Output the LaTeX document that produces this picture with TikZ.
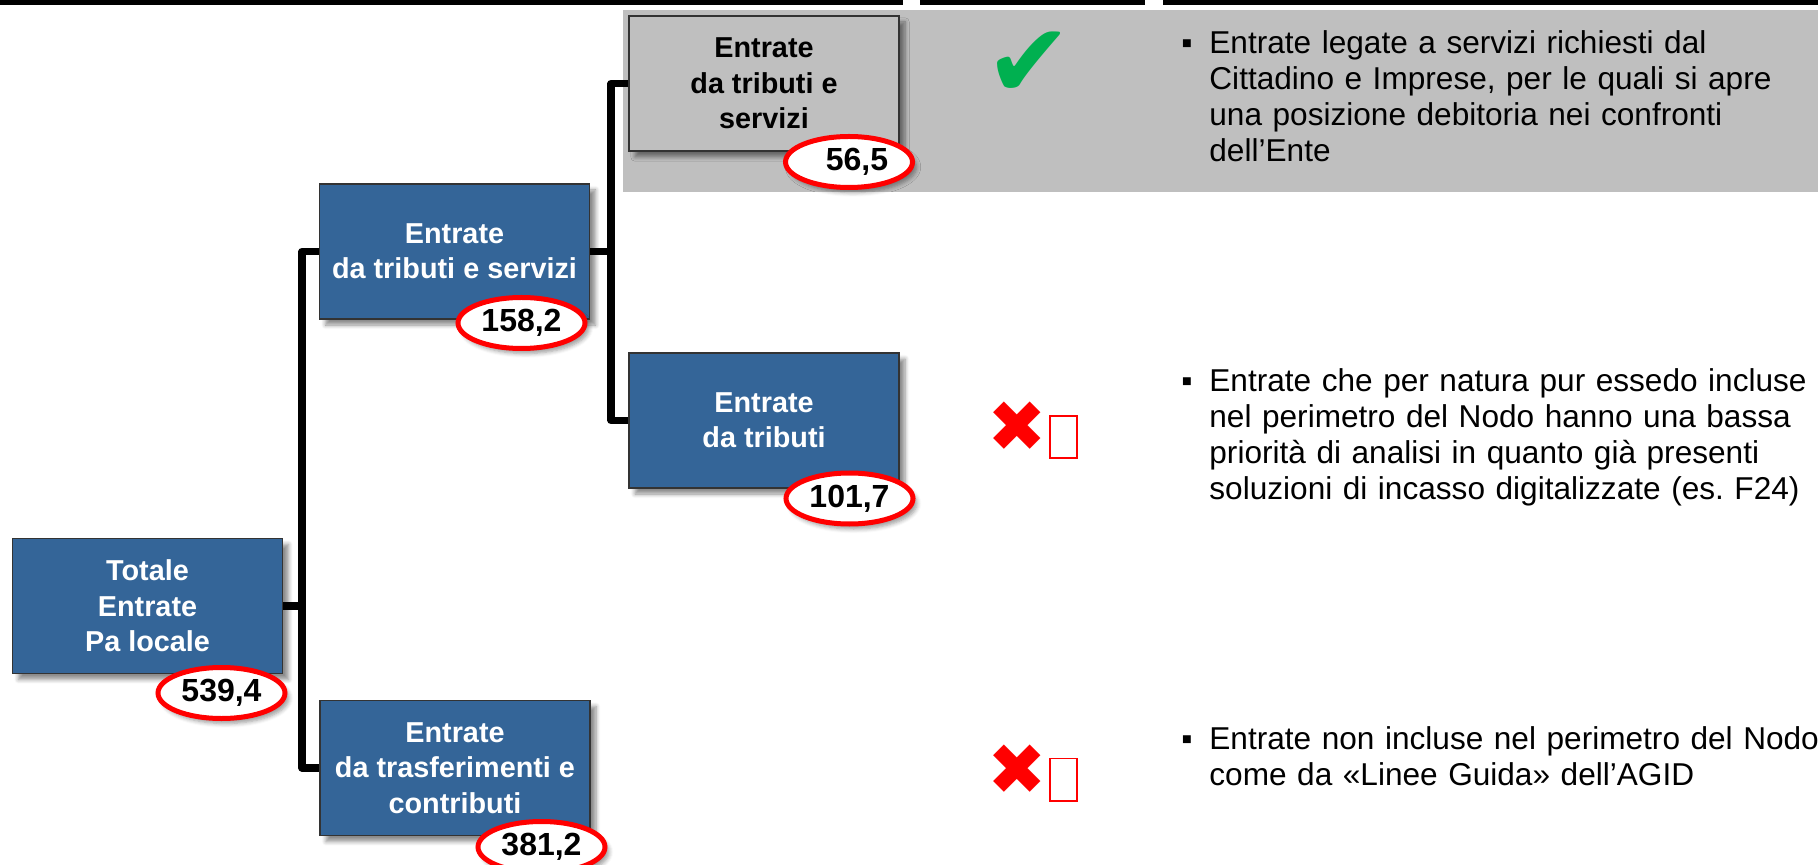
\documentclass[tikz,border=0pt]{standalone}
\usepackage{fontspec}
\setmainfont{Liberation Sans}
\newfontfamily\symfont{DejaVu Sans}
\usetikzlibrary{shapes.geometric,shadows,shadows.blur}
\frenchspacing
\definecolor{boxblue}{RGB}{52,101,152}
\definecolor{bandgray}{RGB}{191,191,191}
\definecolor{okgreen}{RGB}{0,176,80}
\tikzstyle{voce} = [draw=black!80, line width=0.6pt, minimum width=135pt, minimum height=67.5pt, align=center, fill=boxblue, text=white, font=\fontsize{14.4}{17.7}\selectfont\bfseries, blur shadow={shadow xshift=3pt, shadow yshift=-3pt, shadow blur steps=6, shadow opacity=45}]
\tikzstyle{voceok} = [voce, fill=bandgray, text=black]
\tikzstyle{importo} = [ellipse, draw=red, line width=2.5pt, fill=white, minimum width=63.5pt, minimum height=25.5pt, inner sep=0pt, font=\fontsize{16}{18}\selectfont\bfseries, blur shadow={shadow xshift=2pt, shadow yshift=-2.5pt, shadow blur steps=5, shadow opacity=40}]
\tikzstyle{ramo} = [line width=3.6pt, line join=round]
\tikzstyle{nota} = [anchor=base west, inner sep=0pt, text width=320pt, align=left, font=\fontsize{15.8}{18}\selectfont]
\tikzstyle{punto} = [anchor=base west, inner sep=0pt, font=\fontsize{15.8}{18}\selectfont]
\tikzstyle{nomark} = [text=red, font=\symfont\fontsize{35.5}{36}\selectfont, inner sep=0pt]
\tikzstyle{tofu} = [draw=red, line width=0.8pt, minimum width=13.7pt, minimum height=21.2pt, inner sep=0pt]

\begin{document}
\begin{tikzpicture}[x=0.5pt, y=-0.5pt]
\useasboundingbox (0,0) rectangle (1818,865);
% top rules
\fill (0,0) rectangle (903,5);
\fill (920,0) rectangle (1145,5);
\fill (1163,0) rectangle (1818,5);
% highlighted row
\fill[bandgray] (623,10) rectangle (1818,192);

% tree
\node[voce] (tot) at (147.5,606) {Totale\\Entrate\\Pa locale};
\node[voce] (tb) at (454.5,251.5) {Entrate\\da tributi e servizi};
\node[voce] (tr) at (455,768) {Entrate\\da trasferimenti e\\contributi};
\node[voceok] (ts) at (764,83.5) {Entrate\\da tributi e\\servizi};
\node[voce] (tt) at (764,420.5) {Entrate\\da tributi};

\coordinate (spine1) at (302,0);
\coordinate (spine2) at (611,0);
\draw[ramo] (tb.west) -- (tb.west -| spine1) |- (tr.west);
\draw[ramo] (tot.east) -- (tot.east -| spine1);
\draw[ramo] (ts.west) -- (ts.west -| spine2) |- (tt.west);
\draw[ramo] (tb.east) -- (tb.east -| spine2);

% amounts
\node[importo] (v0) at (221.5,693) {539,4};
\node[importo] (v1) at (521.5,323) {158,2};
\node[importo] (v2) at (541.5,847) {381,2};
\node[importo] (v3) at (849,162) {\hspace{8pt}56,5};
\node[importo] (v4) at (849.5,498.5) {101,7};

% marks
\node[text=okgreen, font=\symfont\fontsize{52}{52}\selectfont, inner sep=0pt] (ok) at (1029,65) {✔};
\node[nomark] (no1) at (1017.5,426.5) {✖};
\node[tofu] (tf1) at (1063.5,437) {};
\node[nomark] (no2) at (1017.5,769.5) {✖};
\node[tofu] (tf2) at (1063.5,779.5) {};

% notes
\node[nota] (n1) at (1209,54) {Entrate legate a servizi richiesti dal\\Cittadino e Imprese, per le quali si apre\\una posizione debitoria nei confronti\\dell’Ente};
\node[nota] (n2) at (1209,392) {Entrate che per natura pur essedo incluse\\nel perimetro del Nodo hanno una bassa\\priorità di analisi in quanto già presenti\\soluzioni di incasso digitalizzate (es. F24)};
\node[nota] (n3) at (1209,749) {Entrate non incluse nel perimetro del Nodo\\come da «Linee Guida» dell’AGID};
\foreach \n in {n1,n2,n3}
  \node[punto] at ([xshift=-14pt]\n.base west) {▪};
\end{tikzpicture}
\end{document}
